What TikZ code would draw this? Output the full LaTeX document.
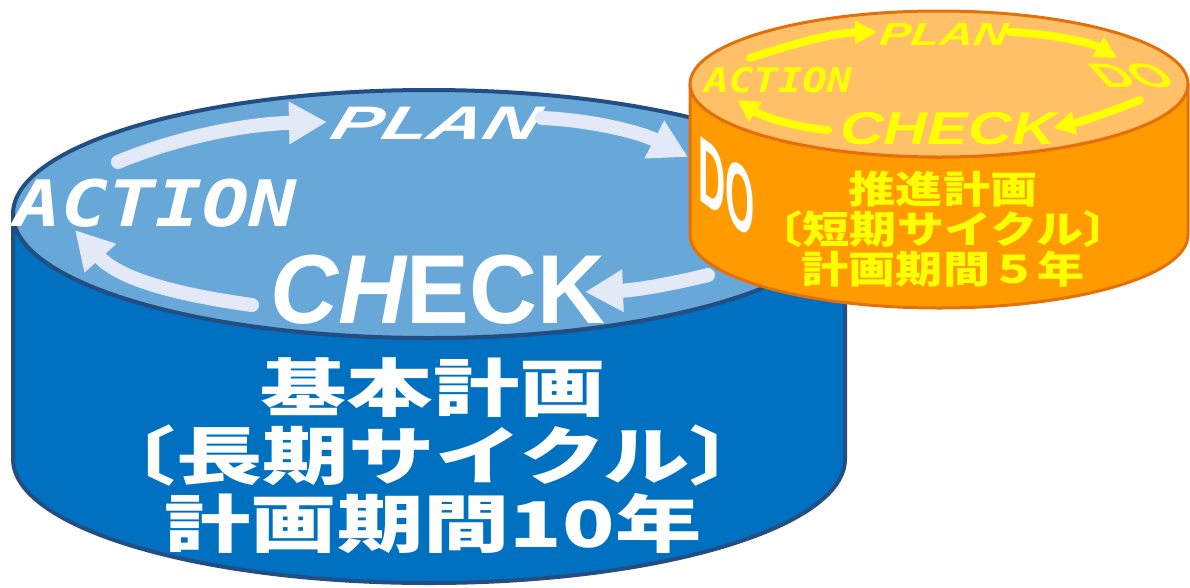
\documentclass[tikz,border=0pt]{standalone}
\usepackage{fontspec}
\setmainfont{Liberation Sans}
\newfontfamily\cjk{Noto Sans CJK JP}
\newfontfamily\monof{DejaVu Sans Mono}
\usetikzlibrary{arrows.meta}
\definecolor{bluetop}{HTML}{67A8D8}
\definecolor{blueside}{HTML}{0070C0}
\definecolor{blueline}{HTML}{234E84}
\definecolor{orangetop}{HTML}{FFC068}
\definecolor{orangeside}{HTML}{FF9A00}
\definecolor{orangeline}{HTML}{E4700C}
\definecolor{paleblue}{HTML}{E3E9F6}
\definecolor{yel}{HTML}{FFFF00}
\tikzset{
  bluecyl/.style={draw=blueline, line width=4pt, line join=round},
  orangecyl/.style={draw=orangeline, line width=3pt, line join=round},
  barrow/.style={draw=paleblue, line width=14pt, line cap=round, -{Triangle[length=38pt,width=40pt]}},
  yarrow/.style={draw=yel, line width=8pt, line cap=round, -{Triangle[length=22pt,width=22pt]}},
  lat/.style={inner sep=0pt, font=\bfseries\itshape\fontsize{#1}{#1}\selectfont},
  mono/.style={inner sep=0pt, font=\monof\bfseries\itshape\fontsize{#1}{#1}\selectfont},
}
\begin{document}
\begin{tikzpicture}[x=1pt,y=-1pt]
\useasboundingbox (0,0) rectangle (1190,587);
% ---------- blue cylinder ----------
\path[bluecyl, fill=blueside] (13,214) -- (13,459)
  arc[start angle=180, end angle=0, x radius=416, y radius=124]
  -- (845,214)
  arc[start angle=0, end angle=180, x radius=416, y radius=124] -- cycle;
\path[bluecyl, fill=bluetop] (429,214) ellipse [x radius=416, y radius=124];
% blue cycle texts
\node[lat=47, text=white, xscale=1.62, xslant=0.18] (bplan) at (437,123) {PLAN};
\node[mono=64, text=white, xscale=1.22] (baction) at (156,203) {ACTION};
\node[inner sep=0pt, font=\bfseries\fontsize{98}{98}\selectfont, text=white, xscale=0.96] (bcheck) at (438,290) {{\itshape CH}ECK};
% blue arrows
\coordinate (a1s) at (118,162); \coordinate (a1e) at (327,122);
\coordinate (a2s) at (542,118); \coordinate (a2e) at (688,157);
\coordinate (a3s) at (708,275); \coordinate (a3e) at (585,292);
\coordinate (a4s) at (252,305); \coordinate (a4e) at (75,230);
\draw[barrow] (a1s) .. controls (170,140) and (240,124) .. (a1e);
\draw[barrow] (a2s) .. controls (590,120) and (640,132) .. (a2e);
\draw[barrow] (a3s) .. controls (680,282) and (640,290) .. (a3e);
\draw[barrow] (a4s) .. controls (180,295) and (120,280) .. (a4e);
% blue body text
\node[inner sep=0pt, text=white, align=center, xscale=1.37,
  font=\cjk\bfseries\fontsize{63}{68}\selectfont] (btxt) at (433,456)
  {基本計画\\〔長期サイクル〕\\計画期間10年};
% ---------- orange cylinder ----------
\path[orangecyl, fill=orangeside] (690,84) -- (690,235)
  arc[start angle=180, end angle=0, x radius=249, y radius=73]
  -- (1188,84)
  arc[start angle=0, end angle=180, x radius=249, y radius=73] -- cycle;
\path[orangecyl, fill=orangetop] (939,84) ellipse [x radius=249, y radius=73];
% white DO on orange side
\node[inner sep=0pt, font=\bfseries\fontsize{94}{94}\selectfont, text=white, yslant=-0.73, xscale=0.4] (bdo) at (727,188) {DO};
% yellow cycle texts
\node[lat=32, text=yel, xscale=1.47, xslant=0.1] (oplan) at (944,34) {PLAN};
\node[mono=34, text=yel, xscale=1.2] (oaction) at (778,80) {ACTION};
\node[lat=46, text=yel, xscale=1.32] (ocheck) at (948,129) {CHECK};
\node[inner sep=0pt, font=\bfseries\fontsize{34}{34}\selectfont, text=yel, xscale=1.45, xslant=-0.63] (odo) at (1132,76) {DO};
% yellow arrows
\coordinate (y1s) at (750,58);  \coordinate (y1e) at (877,32);
\coordinate (y2s) at (1010,32); \coordinate (y2e) at (1117,58);
\coordinate (y3s) at (1140,100); \coordinate (y3e) at (1053,128);
\coordinate (y4s) at (828,130); \coordinate (y4e) at (737,100);
\draw[yarrow] (y1s) .. controls (790,45) and (830,33) .. (y1e);
\draw[yarrow] (y2s) .. controls (1050,34) and (1090,42) .. (y2e);
\draw[yarrow] (y3s) .. controls (1110,112) and (1080,122) .. (y3e);
\draw[yarrow] (y4s) .. controls (800,128) and (765,118) .. (y4e);
% orange body text
\node[inner sep=0pt, text=yel, align=center, xscale=1.24,
  font=\cjk\bfseries\fontsize{38}{40}\selectfont] (otxt) at (943,229)
  {推進計画\\〔短期サイクル〕\\計画期間５年};
\end{tikzpicture}
\end{document}
